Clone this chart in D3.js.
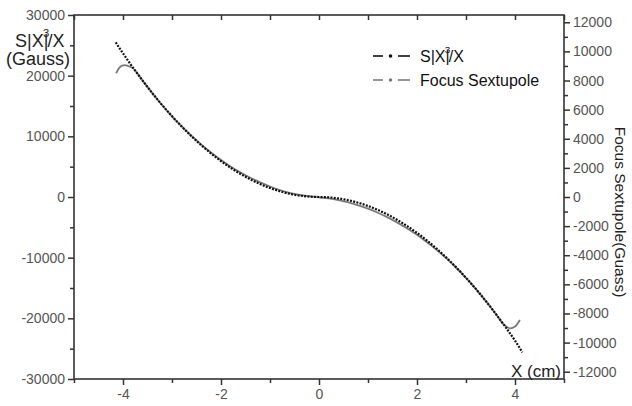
<!DOCTYPE html>
<html>
<head>
<meta charset="utf-8">
<script src="https://cdn.jsdelivr.net/npm/d3@7"></script>
<style>
  body { margin: 0; background: #fff; }
  svg text { font-family: "Liberation Sans", Arial, sans-serif; }
</style>
</head>
<body>
<div class="canvas"></div>
<script>
// S|X|^3/X (left axis, Gauss)
const xBlack = [-4.15, -4.0, -3.8, -3.6, -3.4, -3.2, -3.0, -2.8, -2.6, -2.4, -2.2, -2.0, -1.8, -1.6, -1.4, -1.2, -1.0, -0.8, -0.6, -0.4, -0.2, 0,
  0.2, 0.4, 0.6, 0.8, 1.0, 1.2, 1.4, 1.6, 1.8, 2.0, 2.2, 2.4, 2.6, 2.8, 3.0, 3.2, 3.4, 3.6, 3.8, 4.0, 4.15];
const sxValues = [25500, 23680, 21370, 19180, 17110, 15150, 13320, 11600, 10000, 8520, 7160, 5920, 4800, 3790, 2900, 2130, 1480, 950, 530, 240, 60, 0,
  -60, -240, -530, -950, -1480, -2130, -2900, -3790, -4800, -5920, -7160, -8520, -10000, -11600, -13320, -15150, -17110, -19180, -21370, -23680, -25600];

// Focus Sextupole (right axis, Guass)
const xGray = [-4.14, -4.08, -4.02, -3.96, -3.9, -3.8, -3.6, -3.4, -3.2, -3.0, -2.8, -2.6, -2.4, -2.2, -2.0, -1.8, -1.6, -1.4, -1.2, -1.0, -0.8, -0.6, -0.4, -0.2, 0,
  0.2, 0.4, 0.6, 0.8, 1.0, 1.2, 1.4, 1.6, 1.8, 2.0, 2.2, 2.4, 2.6, 2.8, 3.0, 3.2, 3.4, 3.6, 3.76, 3.9, 4.0, 4.1];
const focusValues = [8500, 8850, 9020, 9060, 9000, 8850, 8000, 7130, 6300, 5540, 4850, 4200, 3600, 3050, 2540, 2080, 1680, 1320, 1000, 720, 480, 290, 150, 55, -20,
  -100, -220, -370, -570, -800, -1080, -1400, -1760, -2160, -2600, -3100, -3630, -4220, -4860, -5550, -6310, -7130, -8000, -8720, -9020, -8900, -8450];

const xTicks = [-4, -2, 0, 2, 4];
const xMinor = [-5, -3, -1, 1, 3, 5];
const leftTicks = [-30000, -20000, -10000, 0, 10000, 20000, 30000];
const leftMinor = [-25000, -15000, -5000, 5000, 15000, 25000];
const rightTicks = [-12000, -10000, -8000, -6000, -4000, -2000, 0, 2000, 4000, 6000, 8000, 10000, 12000];
const rightMinor = [-11000, -9000, -7000, -5000, -3000, -1000, 1000, 3000, 5000, 7000, 9000, 11000];

const width = 632;
const height = 406;
const plotLeft = 74, plotRight = 564, plotTop = 15, plotBottom = 379;

const svg = d3.select(".canvas").append("svg")
  .attr("width", width)
  .attr("height", height);

const x = d3.scaleLinear().domain([-5, 5]).range([plotLeft, plotRight]);
const yL = d3.scaleLinear().domain([-30000, 30000]).range([plotBottom, plotTop]);
const yR = d3.scaleLinear().domain([-12500, 12500]).range([plotBottom, plotTop]);

const axisColor = "#333";
const labelColor = "#555";
const plain = (d) => String(d); // hyphen-minus like the original

function styleAxis(g) {
  g.select(".domain").remove();
  g.selectAll(".tick line").attr("stroke", axisColor).attr("stroke-width", 1.5);
  g.selectAll(".tick text").attr("fill", labelColor).attr("font-size", 14)
    .attr("font-family", "Liberation Sans, Arial, sans-serif");
}

// bottom
svg.append("g").attr("transform", `translate(0,${plotBottom})`)
  .call(d3.axisBottom(x).tickValues(xTicks).tickFormat(plain).tickSize(6).tickPadding(4))
  .call(styleAxis);
svg.append("g").attr("transform", `translate(0,${plotBottom})`)
  .call(d3.axisBottom(x).tickValues(xMinor).tickFormat("").tickSize(4))
  .call(styleAxis);
// top (inward)
svg.append("g").attr("transform", `translate(0,${plotTop})`)
  .call(d3.axisBottom(x).tickValues(xTicks.concat(xMinor)).tickFormat("").tickSize(5))
  .call(styleAxis);

// left
svg.append("g").attr("transform", `translate(${plotLeft},0)`)
  .call(d3.axisLeft(yL).tickValues(leftTicks).tickFormat(plain).tickSize(6).tickPadding(3))
  .call(styleAxis);
svg.append("g").attr("transform", `translate(${plotLeft},0)`)
  .call(d3.axisLeft(yL).tickValues(leftMinor).tickFormat("").tickSize(4))
  .call(styleAxis);

// right
svg.append("g").attr("transform", `translate(${plotRight},0)`)
  .call(d3.axisRight(yR).tickValues(rightTicks).tickFormat(plain).tickSize(6).tickPadding(3))
  .call(styleAxis);
svg.append("g").attr("transform", `translate(${plotRight},0)`)
  .call(d3.axisRight(yR).tickValues(rightMinor).tickFormat("").tickSize(4))
  .call(styleAxis);

// frame
svg.append("rect")
  .attr("x", plotLeft).attr("y", plotTop)
  .attr("width", plotRight - plotLeft).attr("height", plotBottom - plotTop)
  .attr("fill", "none").attr("stroke", axisColor).attr("stroke-width", 1.6);

// curves
const lineL = d3.line().x((d) => x(d[0])).y((d) => yL(d[1])).curve(d3.curveMonotoneX);
const lineR = d3.line().x((d) => x(d[0])).y((d) => yR(d[1])).curve(d3.curveMonotoneX);

svg.append("path")
  .datum(xGray.map((v, i) => [v, focusValues[i]]))
  .attr("d", lineR)
  .attr("fill", "none")
  .attr("stroke", "#7a7a7a")
  .attr("stroke-width", 1.8);

svg.append("path")
  .datum(xBlack.map((v, i) => [v, sxValues[i]]))
  .attr("d", lineL)
  .attr("fill", "none")
  .attr("stroke", "#111")
  .attr("stroke-width", 2.2)
  .attr("stroke-dasharray", "2,1.3");

// S|X|^3/X text helper
function sxLabel(g, size) {
  g.append("tspan").text("S|X|");
  g.append("tspan").text("3").attr("font-size", size * 0.62).attr("dy", -size * 0.55).attr("dx", -size * 0.3);
  g.append("tspan").text("/X").attr("dy", size * 0.55).attr("dx", -size * 0.1);
}

// left axis title
const lt = svg.append("text").attr("x", 15).attr("y", 47).attr("font-size", 18).attr("fill", "#222");
sxLabel(lt, 18);
svg.append("text").attr("x", 6).attr("y", 65).attr("font-size", 18).attr("fill", "#222").text("(Gauss)");

// right axis title
svg.append("text")
  .attr("transform", `translate(615,212) rotate(90)`)
  .attr("text-anchor", "middle")
  .attr("font-size", 15.5)
  .attr("fill", "#222")
  .text("Focus Sextupole(Guass)");

// x axis title
svg.append("text")
  .attr("x", 561).attr("y", 377)
  .attr("text-anchor", "end")
  .attr("font-size", 17)
  .attr("fill", "#222")
  .text("X (cm)");

// legend
const legend = [
  { name: "sx", color: "#111", y: 56 },
  { name: "Focus Sextupole", color: "#7a7a7a", y: 80 }
];
legend.forEach((d) => {
  const g = svg.append("g");
  g.append("line").attr("x1", 373).attr("x2", 383).attr("y1", d.y).attr("y2", d.y)
    .attr("stroke", d.color).attr("stroke-width", 1.6);
  g.append("line").attr("x1", 398).attr("x2", 410).attr("y1", d.y).attr("y2", d.y)
    .attr("stroke", d.color).attr("stroke-width", 1.6);
  g.append("circle").attr("cx", 390.5).attr("cy", d.y).attr("r", 1.8).attr("fill", d.color);
  const t = g.append("text").attr("x", 420).attr("y", d.y + 6).attr("font-size", 16).attr("fill", "#111");
  if (d.name === "sx") sxLabel(t, 16);
  else t.text(d.name);
});
</script>
</body>
</html>
